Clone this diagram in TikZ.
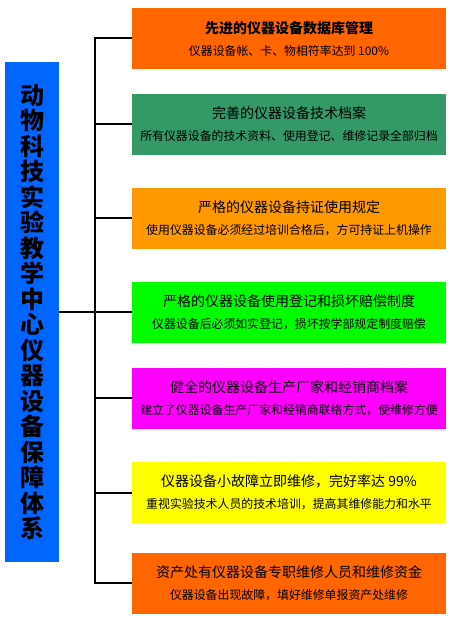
\documentclass[tikz,border=0pt]{standalone}
\usepackage{fontspec}
\newfontfamily\cjk{Noto Sans CJK SC}
\usetikzlibrary{positioning}

\definecolor{deeporange}{HTML}{FF6600}
\definecolor{seagreen}{HTML}{339966}
\definecolor{lightorange}{HTML}{FF9900}
\definecolor{brightgreen}{HTML}{00FF00}
\definecolor{pinkmagenta}{HTML}{FF00FF}
\definecolor{lemon}{HTML}{FFFF00}
\definecolor{titleblue}{HTML}{0066FF}

\tikzset{
  item/.style={minimum width=314pt, minimum height=61pt, inner sep=0pt,
    align=center, font=\cjk\fontsize{11.9}{22}\selectfont},
  wire/.style={line width=2pt, black}
}
\newcommand{\headline}[1]{{\fontsize{14}{22}\selectfont #1}}

\begin{document}
\begin{tikzpicture}[x=1pt,y=-1pt]
\useasboundingbox (0,0) rectangle (450,618);

% left title bar
\node[fill=titleblue, minimum width=54pt, minimum height=499pt, inner sep=0pt,
      align=center, font=\cjk\bfseries\fontsize{24}{25.5}\selectfont] (main) at (32,312)
  {动\\物\\科\\技\\实\\验\\教\\学\\中\\心\\仪\\器\\设\\备\\保\\障\\体\\系};

% right boxes
\node[item, fill=deeporange] (b1) at (289,38.5)
  {\headline{\bfseries 先进的仪器设备数据库管理}\\仪器设备帐、卡、物相符率达到 100\%};
\node[item, fill=seagreen] (b2) at (289,124)
  {\headline{完善的仪器设备技术档案}\\所有仪器设备的技术资料、使用登记、维修记录全部归档};
\node[item, fill=lightorange] (b3) at (289,218)
  {\headline{严格的仪器设备持证使用规定}\\使用仪器设备必须经过培训合格后，方可持证上机操作};
\node[item, fill=brightgreen] (b4) at (289,312)
  {\headline{严格的仪器设备使用登记和损坏赔偿制度}\\仪器设备后必须如实登记，损坏按学部规定制度赔偿};
\node[item, fill=pinkmagenta] (b5) at (289,398)
  {\headline{健全的仪器设备生产厂家和经销商档案}\\建立了仪器设备生产厂家和经销商联络方式，使维修方便};
\node[item, fill=lemon] (b6) at (289,492.5)
  {\headline{仪器设备小故障立即维修，完好率达 99\%}\\重视实验技术人员的技术培训，提高其维修能力和水平};
\node[item, fill=deeporange] (b7) at (289,583)
  {\headline{资产处有仪器设备专职维修人员和维修资金}\\仪器设备出现故障，填好维修单报资产处维修};

% trunk points
\coordinate (t1) at (95,38.5);
\coordinate (t2) at (95,124);
\coordinate (t3) at (95,218);
\coordinate (t4) at (95,312);
\coordinate (t5) at (95,398);
\coordinate (t6) at (95,492.5);
\coordinate (t7) at (95,583);

% connectors
\draw[wire] (b1.west) -- (t1) -- (t7) -- (b7.west);
\draw[wire] (main.east) -- (t4);
\draw[wire] (t2) -- (b2.west);
\draw[wire] (t3) -- (b3.west);
\draw[wire] (t4) -- (b4.west);
\draw[wire] (t5) -- (b5.west);
\draw[wire] (t6) -- (b6.west);
\end{tikzpicture}
\end{document}
